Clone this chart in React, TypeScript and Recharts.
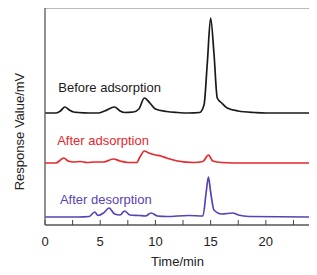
import { Label, Line, LineChart, ReferenceArea, ReferenceDot, ReferenceLine, XAxis, YAxis } from "recharts";

// retention time (min) and detector response above each trace's baseline
const beforeTime = [0, 1, 1.4, 1.8, 2.2, 2.6, 3, 4, 4.8, 5.4, 6.3, 6.8, 7.2, 8, 8.5, 9.0, 9.5, 10, 11, 12, 13, 14, 14.4, 14.7, 15.0, 15.3, 15.6, 16, 16.5, 17.5, 19, 20, 24];
const beforeSignal = [0, 0, 2, 6, 3, 1, 0.5, 0, 0, 2, 6, 2, 0.5, 1, 4, 15, 10, 4, 1.5, 0.5, 0, 0.5, 8, 50, 95, 60, 15, 10, 5, 2, 0.5, 0, 0];

const adsorbTime = [0, 1, 1.3, 1.7, 2.1, 2.6, 3.2, 3.8, 4.5, 5.3, 6.2, 6.8, 7.5, 8.3, 8.6, 9.0, 9.4, 10.0, 10.5, 11, 12, 13.5, 14.3, 14.8, 15.2, 16, 18, 24];
const adsorbSignal = [0, 0, 2, 5, 2, 1, 1.5, 0.5, 1, 1, 4, 2, 0.5, 0.5, 6, 12, 10, 8, 7, 5, 2, 0.5, 1.5, 8, 2, 0.5, 0, 0];

const desorbTime = [0, 3, 4, 4.5, 4.8, 5.3, 5.8, 6.3, 6.8, 7.2, 7.7, 8.5, 9.1, 9.6, 10.2, 11, 13, 14.3, 14.6, 14.8, 15.0, 15.3, 16, 17, 17.5, 18.5, 24];
const desorbSignal = [0, 0, 0.5, 5, 1.5, 4, 9, 3, 2, 6, 2, 1.5, 1, 4, 1, 0.5, 1.5, 1, 25, 40, 25, 7, 3, 4, 2, 0.5, 0];

const baselines = [112, 62, 8]; // before, after adsorption, after desorption
const colors = ["#1a1a1a", "#e8262b", "#5a42b4"];
const names = ["Before adsorption", "After adsorption", "After desorption"];
const labelAt = [
  { x: 1.2, y: 138 },
  { x: 1.1, y: 85 },
  { x: 1.35, y: 26 },
];
const xTicks = [0, 2.5, 5, 7.5, 10, 12.5, 15, 17.5, 20, 22.5];

const toSeries = (time: number[], signal: number[], base: number) =>
  time.map((t, i) => ({ t, v: signal[i] + base }));

const series = [
  toSeries(beforeTime, beforeSignal, baselines[0]),
  toSeries(adsorbTime, adsorbSignal, baselines[1]),
  toSeries(desorbTime, desorbSignal, baselines[2]),
];

const font = "'Liberation Sans', Arial, sans-serif";

export default function App() {
  return (
    <div style={{ width: 309, height: 267, fontFamily: font }}>
      <LineChart width={309} height={267} margin={{ top: 0, right: 7, left: 0, bottom: 0 }}>
        <XAxis
          type="number"
          dataKey="t"
          domain={[0, 24]}
          ticks={xTicks}
          tickFormatter={(v: number) => (v % 5 === 0 ? String(v) : "")}
          tickLine={false}
          tickMargin={6}
          height={50}
          stroke="#444"
          tick={{ fill: "#222", fontSize: 13, fontFamily: font }}
          allowDataOverflow
        >
          <Label value="Time/min" position="insideBottom" offset={9} style={{ fill: "#222", fontSize: 13, fontFamily: font }} />
        </XAxis>
        <YAxis type="number" domain={[0, 217]} width={37} tick={false} tickLine={false} stroke="#666" allowDataOverflow>
          <Label
            value="Response Value/mV"
            angle={-90}
            position="insideLeft"
            offset={11}
            dy={15}
            style={{ fill: "#222", fontSize: 13, fontFamily: font, textAnchor: "middle" }}
          />
        </YAxis>
        <ReferenceArea x1={0} x2={24} y1={0} y2={217} fill="none" stroke="#777" strokeWidth={1} />
        {/* inward ticks on the time axis */}
        {xTicks.map((t) => (
          <ReferenceLine
            key={t}
            segment={[
              { x: t, y: 0 },
              { x: t, y: 5 },
            ]}
            stroke="#444"
            strokeWidth={1}
          />
        ))}
        {series.map((d, i) => (
          <Line
            key={names[i]}
            data={d}
            dataKey="v"
            type="monotone"
            stroke={colors[i]}
            strokeWidth={1.7}
            dot={false}
            isAnimationActive={false}
          />
        ))}
        {names.map((n, i) => (
          <ReferenceDot
            key={n}
            x={labelAt[i].x}
            y={labelAt[i].y}
            r={0}
            fill="none"
            stroke="none"
            label={{ value: n, position: "right", offset: 0, fill: colors[i], fontSize: 13, fontFamily: font }}
          />
        ))}
      </LineChart>
    </div>
  );
}
